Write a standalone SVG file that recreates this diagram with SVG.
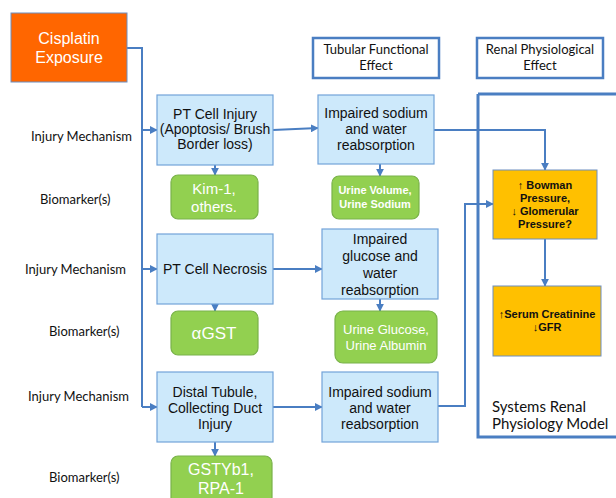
<svg xmlns="http://www.w3.org/2000/svg" width="616" height="498" viewBox="0 0 616 498">
<defs>
<marker id="ah" viewBox="0 0 10 10" refX="9" refY="5" markerWidth="4" markerHeight="4" orient="auto"><path d="M0,0 L10,5 L0,10 z" fill="#4A7EC2"/></marker>
<style>
.lbl{font-family:Lato,"Open Sans",sans-serif;font-size:13px;fill:#111}
.blue rect{fill:#CDE9FB;stroke:#72A3D9;stroke-width:1.2}
.green rect{fill:#92D050;stroke:#79B24A;stroke-width:1.2}
.orange rect{fill:#FFC000;stroke:#6C8EBF;stroke-width:1}
.hdr rect{fill:#fff;stroke:#4A7EC2;stroke-width:2.5}
.bt{font-family:"Liberation Sans",Arial,sans-serif;font-size:14px;fill:#111;text-anchor:middle}
.gt{font-family:"Liberation Sans",Arial,sans-serif;fill:#fff;text-anchor:middle}
.ot{font-family:"Liberation Sans",Arial,sans-serif;font-size:11px;font-weight:bold;fill:#111;text-anchor:middle}
.ht{font-family:Lato,"Open Sans",sans-serif;font-size:13px;fill:#111;text-anchor:middle}
.c{fill:none;stroke:#4A7EC2;stroke-width:2}
.ca{fill:none;stroke:#4A7EC2;stroke-width:2;marker-end:url(#ah)}
</style>
</defs>
<rect width="616" height="498" fill="#fff"/>

<g id="labels">
<text class="lbl" x="31" y="141">Injury Mechanism</text>
<text class="lbl" x="40" y="204">Biomarker(s)</text>
<text class="lbl" x="25" y="274">Injury Mechanism</text>
<text class="lbl" x="49" y="336">Biomarker(s)</text>
<text class="lbl" x="28" y="401">Injury Mechanism</text>
<text class="lbl" x="49" y="482">Biomarker(s)</text>
</g>

<g id="connectors">
<path class="c" d="M127,48 H142 V407"/>
<path class="ca" d="M142,130 H157"/>
<path class="ca" d="M142,269 H157"/>
<path class="ca" d="M142,407 H157"/>
<path class="ca" d="M273,130 L318,128"/>
<path class="ca" d="M273,269 H322"/>
<path class="ca" d="M273,407 H322"/>
<path class="ca" d="M215,165 V175"/>
<path class="ca" d="M215,304 V311"/>
<path class="ca" d="M215,442 V456"/>
<path class="ca" d="M380,164 V176"/>
<path class="ca" d="M380,299 V311"/>
<path class="ca" d="M434,130 H545 V170"/>
<path class="ca" d="M438,406 H465 V204 H493"/>
<path class="ca" d="M545,239 V286"/>
</g>

<g id="system-model"><path d="M478,94 H620 M478,94 V437 H620" fill="none" stroke="#4A7EC2" stroke-width="3"/>
<text x="492" y="412" style="font-family:Lato,'Open Sans',sans-serif;font-size:15px;fill:#111">Systems Renal</text>
<text x="492" y="429" style="font-family:Lato,'Open Sans',sans-serif;font-size:15px;fill:#111">Physiology Model</text>
</g>

<g id="cisplatin"><rect x="11" y="13" width="116" height="69" fill="#FF6600" stroke="#6C8EBF" stroke-width="1"/>
<text class="gt" x="69" y="44" font-size="16">Cisplatin</text>
<text class="gt" x="69" y="63" font-size="16">Exposure</text></g>

<g id="hdr-tubular" class="hdr"><rect x="313" y="38" width="126" height="40"/>
<text class="ht" x="376" y="54">Tubular Functional</text><text class="ht" x="376" y="70">Effect</text></g>
<g id="hdr-renal" class="hdr"><rect x="477" y="38" width="126" height="40"/>
<text class="ht" x="540" y="54">Renal Physiological</text><text class="ht" x="540" y="70">Effect</text></g>

<g id="pt-injury" class="blue"><rect x="157" y="95" width="116" height="70"/>
<text class="bt" x="215" y="119">PT Cell Injury</text>
<text class="bt" x="215" y="134" font-size="11.5">(Apoptosis/ Brush</text>
<text class="bt" x="215" y="149" font-size="11.5">Border loss)</text></g>
<g id="kim1" class="green"><rect x="171" y="175" width="87" height="44" rx="7"/>
<text class="gt" x="214" y="194" font-size="15">Kim-1,</text><text class="gt" x="214" y="212" font-size="15">others.</text></g>

<g id="pt-necrosis" class="blue"><rect x="157" y="234" width="116" height="70"/>
<text class="bt" x="215" y="274">PT Cell Necrosis</text></g>
<g id="agst" class="green"><rect x="171" y="311" width="87" height="44" rx="7"/>
<text class="gt" x="214" y="339" font-size="17">αGST</text></g>

<g id="distal" class="blue"><rect x="157" y="372" width="116" height="70"/>
<text class="bt" x="215" y="397">Distal Tubule,</text>
<text class="bt" x="215" y="413">Collecting Duct</text>
<text class="bt" x="215" y="429">Injury</text></g>
<g id="gstyb1" class="green"><rect x="171" y="456" width="101" height="50" rx="7"/>
<text class="gt" x="221" y="475" font-size="16">GSTYb1,</text><text class="gt" x="221" y="494" font-size="16">RPA-1</text></g>

<g id="impaired-sodium-1" class="blue"><rect x="318" y="95" width="116" height="69"/>
<text class="bt" x="376" y="118">Impaired sodium</text>
<text class="bt" x="376" y="134">and water</text>
<text class="bt" x="376" y="150">reabsorption</text></g>
<g id="urine-volume" class="green"><rect x="332" y="176" width="87" height="43" rx="7"/>
<text class="gt" x="375" y="194" font-size="11" font-weight="bold">Urine Volume,</text>
<text class="gt" x="375" y="208" font-size="11" font-weight="bold">Urine Sodium</text></g>

<g id="impaired-glucose" class="blue"><rect x="322" y="229" width="116" height="70"/>
<text class="bt" x="380" y="244">Impaired</text>
<text class="bt" x="380" y="261">glucose and</text>
<text class="bt" x="380" y="278">water</text>
<text class="bt" x="380" y="295">reabsorption</text></g>
<g id="urine-glucose" class="green"><rect x="335" y="311" width="102" height="52" rx="8"/>
<text class="gt" x="386" y="334" font-size="13">Urine Glucose,</text>
<text class="gt" x="386" y="350" font-size="13">Urine Albumin</text></g>

<g id="impaired-sodium-2" class="blue"><rect x="322" y="372" width="116" height="70"/>
<text class="bt" x="380" y="397">Impaired sodium</text>
<text class="bt" x="380" y="413">and water</text>
<text class="bt" x="380" y="429">reabsorption</text></g>

<g id="bowman" class="orange"><rect x="493" y="170" width="104" height="69"/>
<text class="ot" x="545" y="189">↑ Bowman</text>
<text class="ot" x="545" y="202">Pressure,</text>
<text class="ot" x="545" y="215">↓ Glomerular</text>
<text class="ot" x="545" y="228">Pressure?</text></g>
<g id="serum" class="orange"><rect x="493" y="286" width="108" height="70"/>
<text class="ot" x="547" y="318">↑Serum Creatinine</text>
<text class="ot" x="547" y="331">↓GFR</text></g>
</svg>
